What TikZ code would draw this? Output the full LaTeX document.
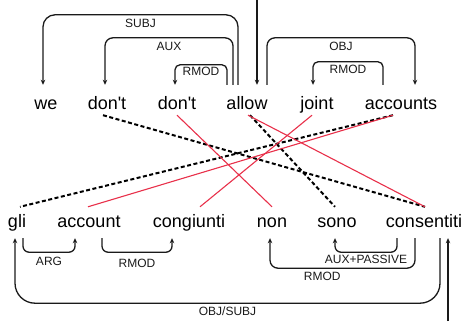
\documentclass[tikz,border=0pt]{standalone}
\usepackage{fontspec}
\setsansfont{Liberation Sans}
\usetikzlibrary{arrows.meta}
\definecolor{linkred}{HTML}{E8304A}
\definecolor{ink}{HTML}{1A1A1A}

\begin{document}
\begin{tikzpicture}[x=1pt,y=1pt,>={Stealth[length=5pt,width=4.5pt]},
  topword/.style={font=\sffamily\fontsize{18}{18}\selectfont,inner sep=0pt,text height=25pt,text depth=5pt,anchor=base},
  botword/.style={font=\sffamily\fontsize{18}{18}\selectfont,inner sep=0pt,text height=21pt,text depth=10pt,anchor=base},
  rel/.style={ink,line width=1.3pt,rounded corners=8pt},
  rellabel/.style={font=\sffamily\fontsize{12}{12}\selectfont,inner sep=1pt,pos=0.25},
  dotlink/.style={black,line width=2pt,dash pattern=on 4pt off 2.5pt},
  redlink/.style={linkred,line width=1.1pt}]
\useasboundingbox (0,0) rectangle (465,321);
\node[topword] (we) at (46,211) {we};
\node[topword] (dont1) at (107,211) {don\textquotesingle t};
\node[topword] (dont2) at (177,211) {don\textquotesingle t};
\node[topword] (allow) at (247,211) {allow};
\node[topword] (joint) at (317,211) {joint};
\node[topword] (accounts) at (401,211) {accounts};
\node[botword] (gli) at (17,93) {gli};
\node[botword] (account) at (89,93) {account};
\node[botword] (congiunti) at (189,93) {congiunti};
\node[botword] (non) at (272,93) {non};
\node[botword] (sono) at (337,93) {sono};
\node[botword] (consentiti) at (424,93) {consentiti};
\coordinate (top) at (257,321);
\coordinate (bot) at (448,0);
\draw[rel,->,rounded corners=12pt] ([xshift=-9pt]allow.north) -- ++(0,70) -| node[rellabel,below=3pt] {SUBJ} ([xshift=-3pt]we.north);
\draw[rel,->] ([xshift=-14pt]allow.north) -- ++(0,47) -| node[rellabel,below=3pt] {AUX} ([xshift=-2pt]dont1.north);
\draw[rel,->,rounded corners=5pt] ([xshift=-20pt]allow.north) -- ++(0,20) -| node[rellabel,below=1pt] {RMOD} ([xshift=-2pt]dont2.north);
\draw[rel,->] (top) -- ([xshift=10pt]allow.north);
\draw[rel,->] ([xshift=20pt]allow.north) -- ++(0,47) -| node[rellabel,below=3pt] {OBJ} ([xshift=14pt]accounts.north);
\draw[rel,->,rounded corners=5pt] ([xshift=-18pt]accounts.north) -- ++(0,23) -| node[rellabel,below=2pt] {RMOD} ([xshift=-4pt]joint.north);
\draw[rel,->,rounded corners=6pt] ([xshift=6pt]gli.south) -- ++(0,-14) -| node[rellabel,below=3pt] {ARG} ([xshift=-14pt]account.south);
\draw[rel,->,rounded corners=6pt] ([xshift=13pt]account.south) -- ++(0,-14) -| node[rellabel,below=5pt] {RMOD} ([xshift=-17pt]congiunti.south);
\draw[rel,->,rounded corners=6pt] ([xshift=-27pt]consentiti.south) -- ++(0,-14) -| node[rellabel,below=1pt] {AUX+PASSIVE} ([xshift=-2pt]sono.south);
\draw[rel,->] ([xshift=-9pt]consentiti.south) -- ++(0,-30) -| node[rellabel,pos=0.32,below=2pt] {RMOD} ([xshift=-2pt]non.south);
\draw[rel,->,rounded corners=20pt] ([xshift=16pt]consentiti.south) -- ++(0,-65) -| node[rellabel,below=2pt] {OBJ/SUBJ} ([xshift=-2pt]gli.south);
\draw[rel,->] (bot) -- ([xshift=24pt]consentiti.south);
\draw[dotlink] ([xshift=-4pt]dont1.south) -- ([xshift=1pt]consentiti.north);
\draw[dotlink] ([xshift=-8pt]accounts.south) -- ([xshift=3pt]gli.north);
\draw[dotlink] ([xshift=3pt]allow.south) -- ([xshift=-2pt]sono.north);
\draw[redlink] (dont2.south) -- (non.north);
\draw[redlink] ([xshift=1pt]allow.south) -- ([xshift=1pt]consentiti.north);
\draw[redlink] ([xshift=-5pt]joint.south) -- ([xshift=11pt]congiunti.north);
\draw[redlink] ([xshift=-8pt]accounts.south) -- ([xshift=-1pt]account.north);
\end{tikzpicture}
\end{document}
